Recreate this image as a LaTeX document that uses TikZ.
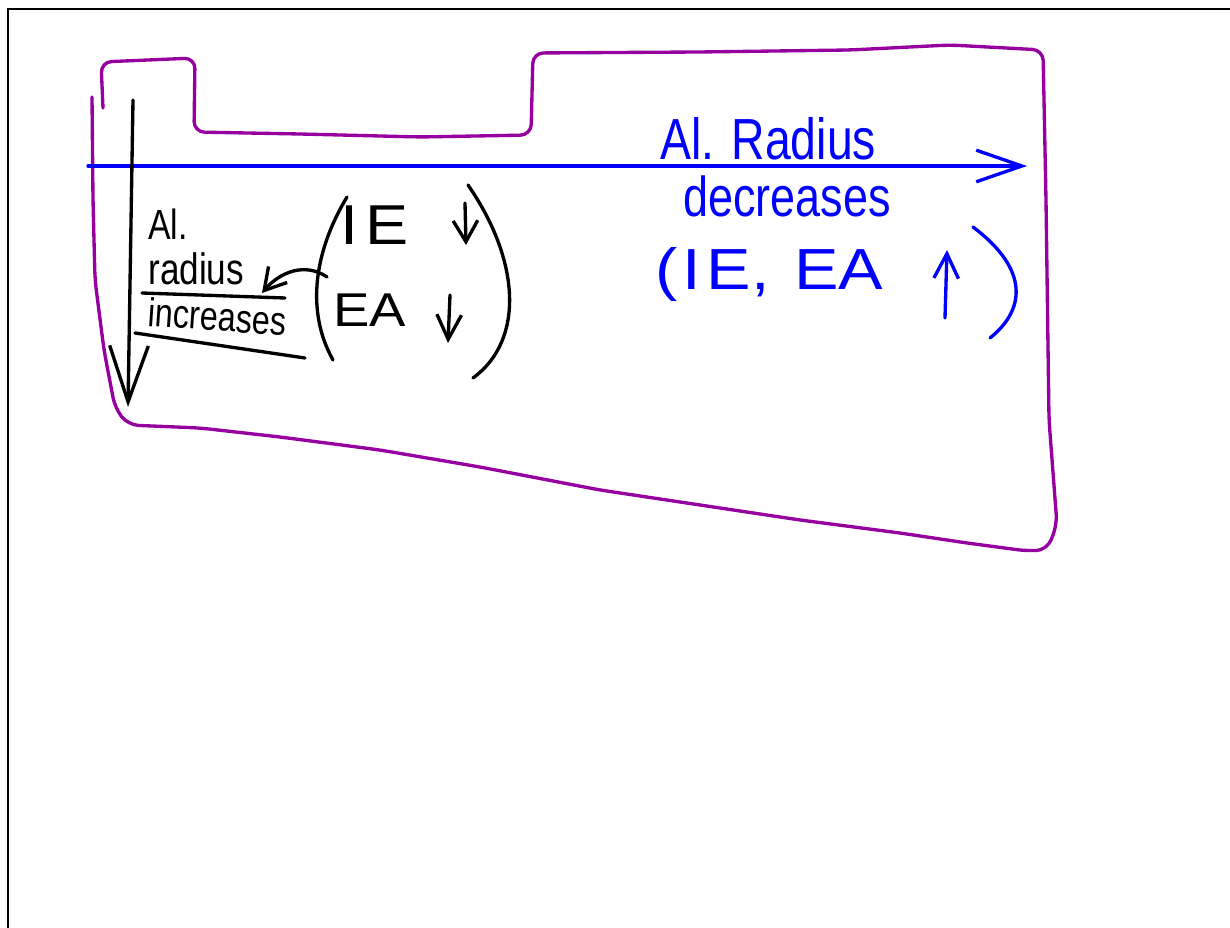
\documentclass[tikz,border=0pt]{standalone}
\usepackage{fontspec}
\setmainfont{Liberation Sans}
\newfontfamily\hand{Liberation Sans}[FakeStretch=0.8]
\newfontfamily\handcaps{Liberation Sans}[FakeStretch=1.15]
\usetikzlibrary{arrows.meta}
\definecolor{tablepurple}{RGB}{150,0,160}
\definecolor{penblue}{RGB}{0,0,255}

\begin{document}
\begin{tikzpicture}[x=0.02cm,y=-0.02cm,
    pen/.style={line width=1.9pt,line cap=round,line join=round},
    txt/.style={font=\hand,inner sep=0pt,anchor=base west}]

    \useasboundingbox (0,0) rectangle (1230,928);

    % page frame
    \draw[line width=1.3pt] (8,928) -- (8,9) -- (1230,9);

    % outline of the table
    \draw[pen,tablepurple,rounded corners=6] (103,108) -- (101,62) -- (195,58) -- (194,132)
      -- (300,134) -- (420,137) -- (531,135) -- (533,53) -- (700,52) -- (850,50)
      -- (950,45) -- (1043,50) -- (1046,200) -- (1049,420) -- (1057,525) -- (1047,550)
      -- (1027,551) -- (967,543) -- (900,533) -- (800,520) -- (700,505) -- (600,490)
      -- (480,467) -- (380,450) -- (280,437) -- (200,428) -- (128,425) -- (115,408)
      -- (104,350) -- (95,280) -- (93,200) -- (92,97);

    % across the period
    \coordinate (rowStart) at (88,166);
    \coordinate (rowEnd) at (1027,166);
    \draw[pen,penblue,-{Straight Barb[length=26pt,width=18pt]}] (rowStart) -- (rowEnd);

    \node[txt,penblue,font=\hand\fontsize{33}{33}\selectfont] (alRight) at (660,160) {Al. Radius};
    \node[txt,penblue,font=\hand\fontsize{32}{32}\selectfont] (decRight) at (683,217) {decreases};
    \node[txt,penblue,font=\handcaps\fontsize{33}{33}\selectfont] (ieeaRight) at (655,290)
      {(\hspace{3pt}I\hspace{3pt}E,\hspace{14pt}EA};

    \coordinate (upBot) at (945,318);
    \coordinate (upTop) at (947,250);
    \draw[pen,penblue,-{Straight Barb[length=14pt,width=14pt]}] (upBot) -- (upTop);
    \draw[pen,penblue] (973,227) .. controls (1030,270) and (1025,310) .. (990,338);

    % down the group
    \coordinate (grpTop) at (133,100);
    \coordinate (grpEnd) at (128,407);
    \draw[pen,-{Straight Barb[length=32pt,width=22pt]}] (grpTop) -- (grpEnd);

    \node[txt,font=\hand\fontsize{24}{24}\selectfont] (alLeft) at (148,240) {Al.};
    \node[txt,font=\hand\fontsize{25}{25}\selectfont] (radLeft) at (148,285) {radius};
    \node[txt,font=\hand\fontsize{23}{23}\selectfont,rotate=-4] (incLeft) at (147,326) {increases};
    \draw[pen] (142,293) -- (285,298);
    \draw[pen] (135,333) -- (305,358);

    \node[txt,font=\handcaps\fontsize{32}{32}\selectfont] (ieLeft) at (340,245) {I\hspace{4pt}E};
    \node[txt,font=\handcaps\fontsize{27}{27}\selectfont] (eaLeft) at (333,327) {EA};

    \coordinate (ieTop) at (465,203);
    \coordinate (ieBot) at (466,245);
    \draw[pen,-{Straight Barb[length=12pt,width=14pt]}] (ieTop) -- (ieBot);
    \coordinate (eaTop) at (450,295);
    \coordinate (eaBot) at (448,343);
    \draw[pen,-{Straight Barb[length=14pt,width=14pt]}] (eaTop) -- (eaBot);

    \draw[pen] (347,197) .. controls (315,250) and (305,310) .. (333,360);
    \draw[pen] (468,185) .. controls (520,260) and (525,340) .. (473,378);

    \coordinate (parenTip) at (327,277);
    \draw[pen,-{Straight Barb[length=12pt,width=14pt]}] (parenTip) .. controls (305,262) and (280,272) .. (262,293);

\end{tikzpicture}
\end{document}
